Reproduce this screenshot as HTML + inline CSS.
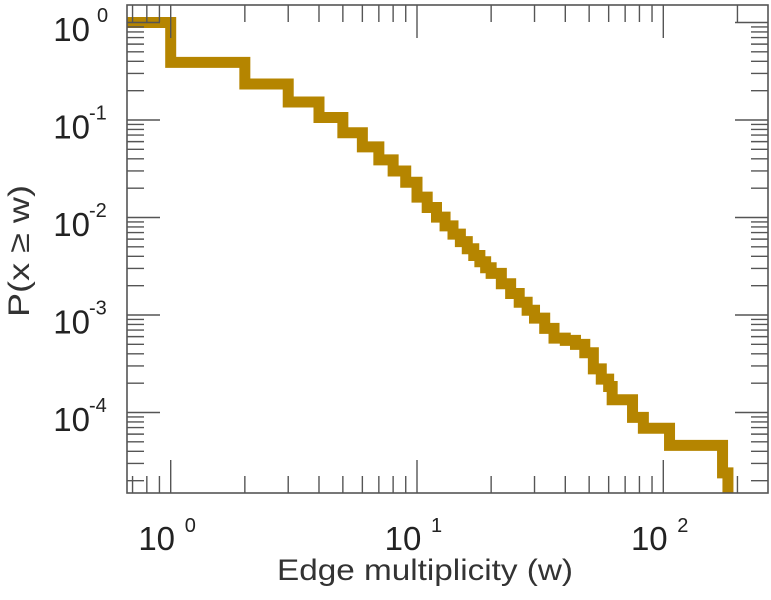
<!DOCTYPE html>
<html><head><meta charset="utf-8"><style>
html,body{margin:0;padding:0;background:#fff;}
svg{display:block;font-family:"Liberation Sans",sans-serif;}
</style></head><body>
<svg id="chart" width="771" height="600" viewBox="0 0 771 600"></svg>
<script>
const stepW = [1,2,3,4,5,6,7,8,9,10,11,12,13,14,15,16,17,18,19,20,22,24,26,28,30,33,36,40,44,48,52,56,60,62,75,83,106,174];
const stepP = [0.39,0.234,0.153,0.106,0.074,0.053,0.039,0.030,0.023,0.0162,0.01265,0.0101,0.0082,0.00676,0.00565,0.00478,0.00408,0.00352,0.00305,0.00267,0.00209,0.00166,0.00135,0.00112,0.00093,0.00073,0.00058,0.00055,0.0005,0.00041,0.00028,0.00022,0.000185,0.000135,0.000089,0.000069,0.000046,0.000024];
const lastW = 183;
const xTickExp = [0,1,2];
const yTickExp = [0,-1,-2,-3,-4];

const NS='http://www.w3.org/2000/svg';
const svg=document.getElementById('chart');
const L=127,R=768,T=5,B=493;
const x0=170.7, xd=246.3, y0=22.5, yd=97.5;
const xs=w=>x0+xd*Math.log10(w);
const ys=p=>y0-yd*Math.log10(p);
function mk(tag,attrs){const e=document.createElementNS(NS,tag);for(const k in attrs)e.setAttribute(k,attrs[k]);svg.appendChild(e);return e;}

let d='M'+L+','+ys(1)+' H'+xs(1);
for(let i=0;i<stepW.length;i++){
  d+=' V'+ys(stepP[i]);
  d+=' H'+xs(i+1<stepW.length?stepW[i+1]:lastW);
}
d+=' V'+(B+10);
const line=mk('path',{d:d,fill:'none',stroke:'#b58500','stroke-width':11,'stroke-linejoin':'miter','stroke-linecap':'butt'});


mk('rect',{x:0,y:B,width:771,height:107,fill:'#fff'});

for(let e=-1;e<=3;e++){for(let m=1;m<10;m++){const w=m*Math.pow(10,e);const x=xs(w);if(x<L||x>R)continue;
  const len=m===1?33:17;
  const t1=mk('line',{x1:x,x2:x,y1:B,y2:B-len,stroke:'#555','stroke-width':1.4});
  
  const t2=mk('line',{x1:x,x2:x,y1:T,y2:T+len,stroke:'#555','stroke-width':1.4});
  
}}
for(let e=-6;e<=1;e++){for(let m=1;m<10;m++){const p=m*Math.pow(10,e);const y=ys(p);if(y<T||y>B)continue;
  const len=m===1?33:17;
  const t1=mk('line',{x1:L,x2:L+len,y1:y,y2:y,stroke:'#555','stroke-width':1.4});
  
  const t2=mk('line',{x1:R,x2:R-len,y1:y,y2:y,stroke:'#555','stroke-width':1.4});
  
}}
const frame=mk('rect',{x:L,y:T,width:R-L,height:B-T,fill:'none',stroke:'#555','stroke-width':1.6});



xTickExp.forEach(e=>{
  const x=xs(Math.pow(10,e));
  const t=mk('text',{x:x-14,y:550,'font-size':33,fill:'#222','text-anchor':'middle'});
  t.textContent='10';
  
  
  const s=mk('text',{x:x+14,y:532,'font-size':20,fill:'#222'});
  s.textContent=String(e);
  
  
});
yTickExp.forEach(e=>{
  const y=ys(Math.pow(10,e));
  const t=mk('text',{x:90,y:y+18.5,'font-size':33,fill:'#222','text-anchor':'end'});
  t.textContent='10';
  
  
  const s=mk('text',{x:e===0?97:89,y:y-0.5,'font-size':20,fill:'#222'});
  s.textContent=e===0?'0':'-'+(-e);
  
  
});
const xt=mk('text',{x:277,y:580,'font-size':30,fill:'#333',textLength:296,lengthAdjust:'spacingAndGlyphs'});
xt.textContent='Edge multiplicity (w)';


const yt=mk('text',{x:0,y:0,'font-size':30,fill:'#333','text-anchor':'middle',textLength:132,lengthAdjust:'spacingAndGlyphs',transform:'translate(29,251) rotate(-90)'});
yt.textContent='P(x ≥ w)';


</script>
</body></html>
